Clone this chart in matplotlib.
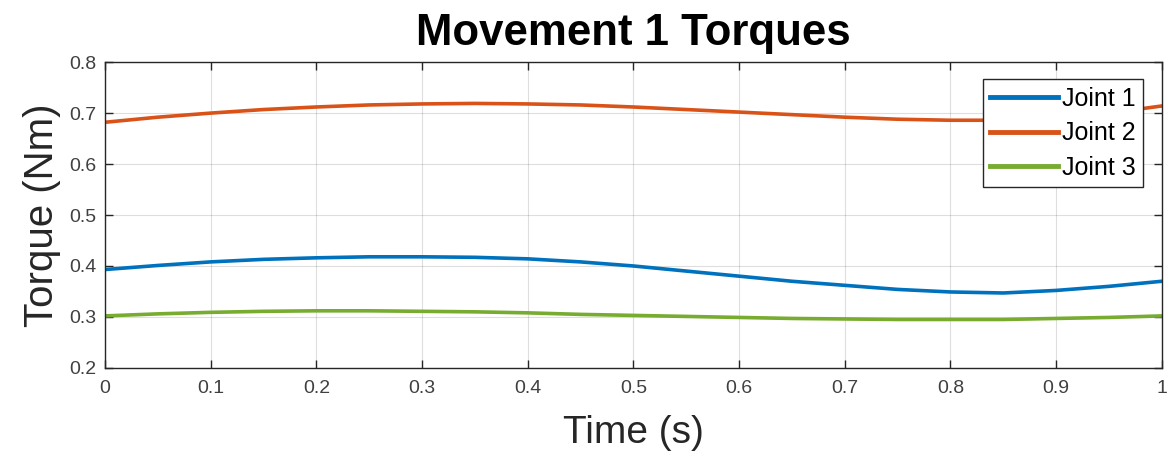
import numpy as np
import matplotlib
matplotlib.use("Agg")
import matplotlib.pyplot as plt

plt.rcParams['font.family'] = ['Liberation Sans', 'DejaVu Sans']

# values at 0.05 s steps
t = [0.00, 0.05, 0.10, 0.15, 0.20, 0.25, 0.30, 0.35, 0.40, 0.45, 0.50,
     0.55, 0.60, 0.65, 0.70, 0.75, 0.80, 0.85, 0.90, 0.95, 1.00]
joint1 = [0.393, 0.401, 0.408, 0.413, 0.416, 0.418, 0.418, 0.417, 0.414, 0.408, 0.400,
          0.390, 0.380, 0.370, 0.362, 0.354, 0.349, 0.347, 0.352, 0.360, 0.370]
joint2 = [0.682, 0.692, 0.700, 0.707, 0.712, 0.716, 0.718, 0.719, 0.718, 0.716, 0.712,
          0.707, 0.702, 0.697, 0.692, 0.688, 0.686, 0.686, 0.690, 0.700, 0.714]
joint3 = [0.302, 0.306, 0.309, 0.311, 0.312, 0.312, 0.311, 0.310, 0.308, 0.305, 0.303,
          0.301, 0.299, 0.297, 0.296, 0.295, 0.295, 0.295, 0.297, 0.299, 0.302]
labels = ["Joint 1", "Joint 2", "Joint 3"]
colors = ["#0072BD", "#D95319", "#77AC30"]

fig = plt.figure(figsize=(11.7, 4.57), dpi=100)
ax = fig.add_axes([0.0897, 0.195, 0.9033, 0.669])

for y, lab, c in zip([joint1, joint2, joint3], labels, colors):
    ax.plot(t, y, color=c, lw=2.6, label=lab)

ax.set_xlim(0, 1)
ax.set_ylim(0.2, 0.8)
ax.set_xticks(np.arange(0, 1.01, 0.1))
ax.set_xticklabels(["0", "0.1", "0.2", "0.3", "0.4", "0.5", "0.6", "0.7", "0.8", "0.9", "1"])
ax.set_yticks(np.arange(0.2, 0.81, 0.1))
ax.set_yticklabels(["0.2", "0.3", "0.4", "0.5", "0.6", "0.7", "0.8"])
ax.tick_params(direction="in", length=6, width=1, color="#262626", labelcolor="#404040",
               labelsize=14, top=True, right=True)
ax.tick_params(axis="x", pad=9)
ax.tick_params(axis="y", pad=6)
ax.grid(True, color="#262626", alpha=0.15, lw=0.8)
for s in ax.spines.values():
    s.set_color("#262626")
    s.set_linewidth(1)

ax.set_title("Movement 1 Torques", fontsize=31.5, fontweight="bold", pad=12)
ax.set_xlabel("Time (s)", fontsize=28, color="#262626", labelpad=13)
ax.set_ylabel("Torque (Nm)", fontsize=29, color="#262626", labelpad=6)

leg = ax.legend(loc="upper right", bbox_to_anchor=(0.982, 0.944), fontsize=18,
                frameon=True, fancybox=False, framealpha=1, edgecolor="#262626",
                handlelength=2.7, borderpad=0.3, labelspacing=0.42, handletextpad=0.15,
                borderaxespad=0)
leg.get_frame().set_linewidth(1)
for line in leg.get_lines():
    line.set_linewidth(3.5)

fig.savefig("out.png", dpi=100)
